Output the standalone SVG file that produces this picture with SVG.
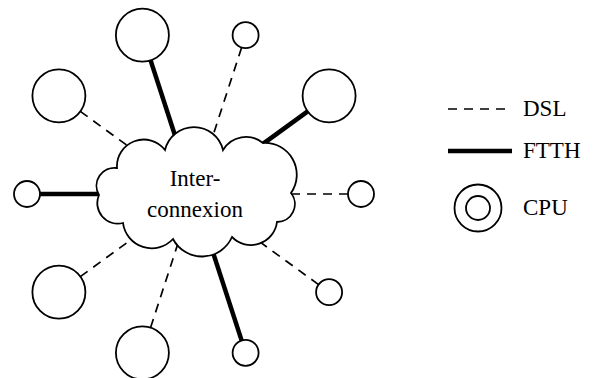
<svg xmlns="http://www.w3.org/2000/svg" width="593" height="378" viewBox="0 0 593 378">
<style>
.cpu{fill:#fff;stroke:#000;stroke-width:1.8}
.dsl{stroke:#000;stroke-width:1.7;stroke-dasharray:9 7;fill:none}
.ftth{stroke:#000;stroke-width:4.5;fill:none}
.cloud{fill:#fff;stroke:#000;stroke-width:1.8;stroke-linejoin:miter}
.t{font-family:'Liberation Serif','DejaVu Serif',serif;font-size:23px;fill:#000}
</style>
<rect width="593" height="378" fill="#fff"/>
<g id="connectors">
<line class="dsl" x1="348" y1="194" x2="230" y2="194"/>
<line class="ftth" x1="307.7" y1="111.4" x2="223.1" y2="172.8"/>
<line class="dsl" x1="241.6" y1="47.6" x2="205.1" y2="159.8"/>
<line class="ftth" x1="150.6" y1="60.4" x2="182.9" y2="159.8"/>
<line class="dsl" x1="80.3" y1="111.4" x2="164.9" y2="172.8"/>
<line class="ftth" x1="40" y1="194" x2="158" y2="194"/>
<line class="dsl" x1="80.3" y1="276.6" x2="164.9" y2="215.2"/>
<line class="dsl" x1="150.6" y1="327.6" x2="182.9" y2="228.2"/>
<line class="ftth" x1="241.6" y1="340.4" x2="205.1" y2="228.2"/>
<line class="dsl" x1="318.6" y1="284.6" x2="223.1" y2="215.2"/>
</g>
<g id="cloud">
<path class="cloud" d="M165,150 A29.8,29.8 0 0 1 223,150 A26.7,26.7 0 0 1 263,143 A31.8,31.8 0 0 1 291,193 A17.9,17.9 0 0 1 277,222 A26.3,26.3 0 0 1 232,237 A32.8,32.8 0 0 1 173,239 A29,29 0 0 1 123,223 A20.5,20.5 0 0 1 99,195 A18,18 0 0 1 117,168 A26.8,26.8 0 0 1 165,150 Z"/>
<text class="t" x="195" y="186" text-anchor="middle">Inter-</text>
<text class="t" x="195" y="217" text-anchor="middle">connexion</text>
</g>
<g id="n0"><circle class="cpu" cx="361" cy="194" r="13"/></g>
<g id="n36"><circle class="cpu" cx="329.1" cy="95.8" r="26.5"/></g>
<g id="n72"><circle class="cpu" cx="245.6" cy="35.2" r="13"/></g>
<g id="n108"><circle class="cpu" cx="142.4" cy="35.2" r="26.5"/></g>
<g id="n144"><circle class="cpu" cx="58.9" cy="95.8" r="26.5"/></g>
<g id="n180"><circle class="cpu" cx="27" cy="194" r="13"/></g>
<g id="n216"><circle class="cpu" cx="58.9" cy="292.2" r="26.5"/></g>
<g id="n252"><circle class="cpu" cx="142.4" cy="352.8" r="26.5"/></g>
<g id="n288"><circle class="cpu" cx="245.6" cy="352.8" r="13"/></g>
<g id="n324"><circle class="cpu" cx="329.1" cy="292.2" r="13"/></g>
<g id="legend">
<line class="dsl" x1="448" y1="109" x2="505" y2="109"/>
<text class="t" x="523" y="116">DSL</text>
<line class="ftth" x1="448" y1="151" x2="512" y2="151"/>
<text class="t" x="523" y="158">FTTH</text>
<circle class="cpu" cx="478" cy="208" r="23.5"/>
<circle class="cpu" cx="478" cy="208" r="12"/>
<text class="t" x="523" y="215">CPU</text>
</g>
</svg>
